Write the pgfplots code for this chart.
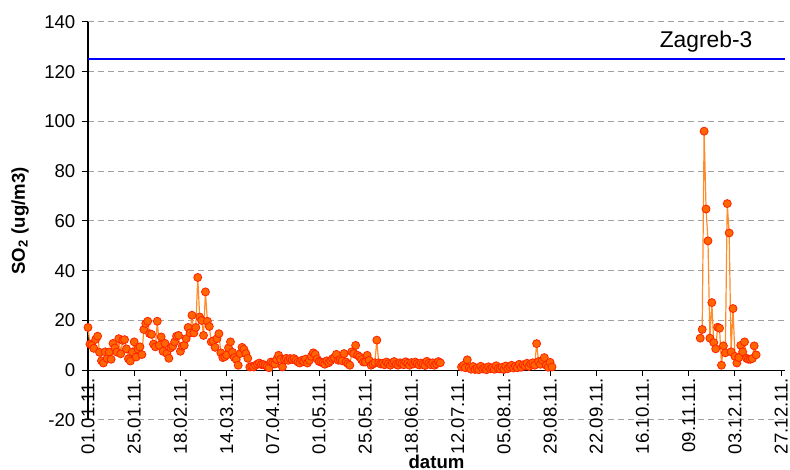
\documentclass[border=0pt]{standalone}
\usepackage{pgfplots}
\pgfplotsset{compat=1.18}
\usepackage{pgfplotstable}
\usepackage{fontspec}
\setmainfont{Liberation Sans}
\definecolor{markfill}{HTML}{FF6600}
\definecolor{markedge}{HTML}{FF2200}
\definecolor{lineor}{HTML}{FF8C2A}
\definecolor{gridgray}{HTML}{A0A0A0}
\newcommand\chartfont{\fontsize{9.3}{11.2}\selectfont}

% daily SO2, day 0 = 01.01.11, nan = no data
\pgfplotstableread{
x y
0 17.2
1 10.5
2 10.0
3 8.8
4 12.4
5 13.7
6 7.2
7 3.8
8 2.9
9 7.4
10 4.8
11 7.3
12 4.4
13 10.8
14 9.0
15 7.3
16 12.7
17 6.6
18 12.0
19 12.3
20 8.6
21 4.6
22 3.7
23 7.3
24 11.4
25 5.3
26 8.5
27 9.4
28 6.3
29 16.4
30 18.8
31 19.7
32 14.7
33 14.4
34 10.5
35 9.4
36 19.7
37 10.0
38 13.4
39 7.6
40 10.8
41 6.7
42 4.8
43 9.0
44 9.7
45 11.4
46 13.7
47 14.0
48 7.6
49 9.7
50 10.0
51 12.7
52 17.2
53 15.0
54 22.1
55 15.0
56 17.2
57 37.3
58 21.4
59 20.0
60 14.0
61 31.5
62 19.7
63 17.6
64 11.4
65 11.8
66 9.2
67 12.7
68 14.7
69 7.0
70 5.1
71 5.4
72 6.1
73 9.0
74 11.4
75 7.2
76 5.1
77 4.3
78 2.0
79 6.7
80 9.2
81 8.4
82 6.7
83 4.8
84 1.3
85 1.5
86 1.3
87 2.0
88 2.5
89 2.9
90 2.3
91 2.3
92 2.0
93 1.6
94 1.0
95 3.3
96 2.9
97 2.5
98 4.3
99 6.0
100 4.4
101 1.3
102 4.3
103 4.8
104 4.0
105 4.7
106 4.3
107 4.7
108 4.0
109 3.3
110 2.9
111 4.0
112 3.5
113 4.5
114 2.9
115 4.0
116 5.6
117 7.0
118 6.4
119 4.5
120 3.5
121 3.3
122 2.9
123 2.4
124 3.8
125 3.0
126 3.8
127 4.7
128 5.0
129 6.4
130 4.0
131 4.3
132 3.8
133 6.7
134 3.3
135 2.6
136 2.0
137 7.4
138 6.7
139 10.0
140 6.0
141 5.4
142 4.3
143 3.3
144 3.3
145 6.0
146 4.0
147 2.0
148 2.5
149 3.0
150 12.1
151 3.0
152 2.5
153 2.8
154 2.2
155 3.3
156 2.6
157 2.0
158 2.9
159 3.5
160 2.4
161 2.0
162 3.0
163 2.6
164 2.2
165 3.4
166 2.8
167 2.0
168 3.1
169 2.5
170 3.3
171 2.7
172 2.1
173 2.9
174 2.4
175 1.9
176 3.6
177 2.8
178 2.2
179 3.0
180 2.0
181 2.6
182 3.5
183 3.0
184 nan
194 1.3
195 2.0
196 1.0
197 4.2
198 1.0
199 0.4
200 1.5
201 0.3
202 0.8
203 0.2
204 1.6
205 0.5
206 0.9
207 0.2
208 1.4
209 0.6
210 1.0
211 0.4
212 1.8
213 0.7
214 0.5
215 1.2
216 0.3
217 1.7
218 0.6
219 1.3
220 2.0
221 0.9
222 1.6
223 1.0
224 2.4
225 1.2
226 2.2
227 1.7
228 2.8
229 1.5
230 2.6
231 3.0
232 2.0
233 10.7
234 3.5
235 2.4
236 4.0
237 5.1
238 2.0
239 1.2
240 3.2
241 1.3
242 nan
318 12.9
319 16.4
320 96.1
321 64.8
322 52.0
323 12.9
324 27.2
325 11.1
326 8.6
327 17.3
328 16.9
329 2.0
330 9.8
331 7.0
332 67.0
333 55.2
334 7.4
335 24.8
336 5.6
337 2.9
338 5.1
339 10.0
340 7.4
341 11.4
342 4.8
343 4.4
344 4.4
345 4.7
346 9.8
347 6.2
}\sodata

\begin{document}
\begin{tikzpicture}
\begin{axis}[
  name=ax,
  scale only axis,
  width=348.5pt,
  height=199pt,
  xmin=0, xmax=362,
  ymin=-20, ymax=140,
  axis x line=middle,
  axis y line=left,
  axis line style={-,black,line width=0.6pt},
  every inner x axis line/.append style={-},
  every outer y axis line/.append style={-},
  hide obscured x ticks=false,
  hide obscured y ticks=false,
  xtick={0,24,...,360},
  xticklabels={01.01.11.,25.01.11.,18.02.11.,14.03.11.,07.04.11.,01.05.11.,25.05.11.,18.06.11.,12.07.11.,05.08.11.,29.08.11.,22.09.11.,16.10.11.,09.11.11.,03.12.11.,27.12.11.},
  ytick={-20,0,...,140},
  tick align=outside,
  major tick length=2.8pt,
  tick style={black,line width=0.5pt},
  xticklabel style={rotate=90,anchor=east,font=\chartfont,inner sep=0.8pt},
  yticklabel style={font=\chartfont},
  /pgf/number format/assume math mode=true,
  ymajorgrids=true,
  major grid style={gridgray,line width=0.5pt,dash pattern=on 3pt off 2pt},
  xlabel={\textbf{datum}},
  ylabel={\textbf{SO\textsubscript{2} (ug/m3)}},
  xlabel style={at={(axis description cs:0.5,0)},anchor=center,yshift=-21pt,font=\chartfont},
  ylabel style={at={(axis description cs:-0.0975,0.5)},anchor=center,font=\chartfont},
  unbounded coords=jump,
  clip=false,
]
\addplot[blue,line width=1pt] coordinates {(0,125) (362,125)};
\addplot[lineor,line width=0.6pt,mark=*,mark size=2pt,
  mark options={fill=markfill,draw=markedge,line width=0.4pt}] table[x=x,y=y] {\sodata};
\node[font=\fontsize{11.4}{13}\selectfont,anchor=center] at (axis cs:321,132) {Zagreb-3};
\end{axis}
\pgfresetboundingbox
\path ([shift={(-44pt,-25pt)}]ax.south west) rectangle ([shift={(2.5pt,11pt)}]ax.north east);
\end{tikzpicture}
\end{document}
